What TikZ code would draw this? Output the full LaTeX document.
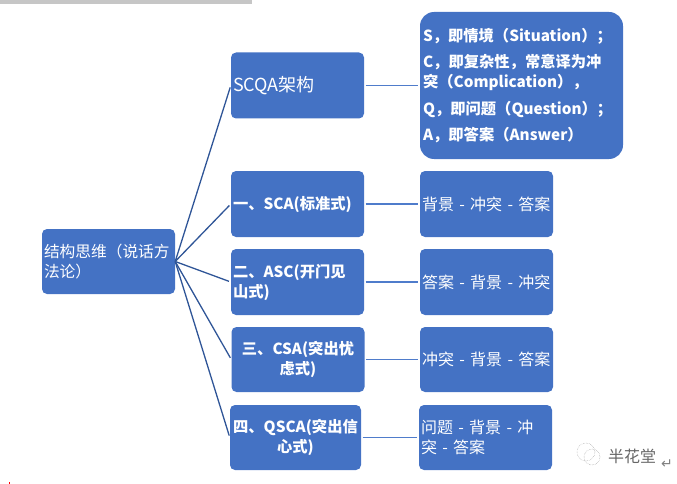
\documentclass[tikz,border=0pt]{standalone}
\usepackage{fontspec}
\setmainfont{Noto Sans CJK SC}
\newfontfamily\symfont{DejaVu Sans}
\definecolor{boxblue}{HTML}{4472C4}
\definecolor{leftline}{HTML}{2F5597}
\definecolor{rightline}{HTML}{4F7CCB}
\tikzset{
  bx/.style={fill=boxblue,rounded corners=5pt,minimum width=133pt,minimum height=66pt,inner xsep=0pt,inner ysep=0pt,text=white,font=\fontsize{15.7}{20}\selectfont},
  plainbox/.style={bx,text width=129pt,align=left},
  rightbox/.style={plainbox,font=\fontsize{16}{19.5}\selectfont},
  boldbox/.style={bx,text width=129pt,align=center,font=\fontsize{15.3}{20}\selectfont\bfseries},
  boldleft/.style={bx,text width=129pt,align=left,font=\fontsize{15.3}{20}\selectfont\bfseries},
  llink/.style={draw=leftline,line width=1.3pt,shorten >=2pt},
  rlink/.style={draw=rightline,line width=1.4pt,shorten <=1.5pt,shorten >=1.5pt},
}
\begin{document}
\begin{tikzpicture}[x=1pt,y=-1pt]
\useasboundingbox (0,0) rectangle (677,484);
\fill[gray!45] (0,0) rectangle (252,4);
% left column
\node[plainbox,minimum height=65pt] (root) at (108.5,261.5) {结构思维（说话方\\法论）};
% middle column
\node[plainbox,font=\fontsize{18}{22}\selectfont] (scqa) at (297.5,85.5) {SCQA架构};
\node[boldleft] (sca) at (297.5,204) {一、SCA(标准式)};
\node[boldleft] (asc) at (297.5,282) {二、ASC(开门见\\山式)};
\node[boldbox,minimum height=65pt] (csa) at (298,359.5) {三、CSA(突出忧\\虑式)};
\node[boldbox,minimum width=131pt,minimum height=65pt] (qsca) at (295.5,437.5) {四、QSCA(突出信\\心式)};
% right column
\node[bx,minimum width=203pt,minimum height=147pt,rounded corners=14pt,text width=197pt,align=left,font=\fontsize{15.3}{20}\selectfont\bfseries] (big) at (521.5,85.5)
  {S，即情境（Situation）；\\[6.5pt]
   C，即复杂性，常意译为冲\\
   突（Complication），\\[6.5pt]
   Q，即问题（Question）；\\[6.5pt]
   A，即答案（Answer）};
\node[rightbox] (r1) at (486.5,204) {背景 - 冲突 - 答案};
\node[rightbox] (r2) at (486.5,282) {答案 - 背景 - 冲突};
\node[rightbox,minimum height=65pt] (r3) at (486.5,359.5) {冲突 - 背景 - 答案};
\node[rightbox,minimum height=65pt] (r4) at (485.5,437.5) {问题 - 背景 - 冲\\突 - 答案};
% connectors
\foreach \t in {scqa,sca,asc,csa,qsca} \draw[llink] (root.east) -- (\t.west);
\draw[rlink] (scqa.east) -- (big.west);
\draw[rlink] (sca.east) -- (r1.west);
\draw[rlink] (asc.east) -- (r2.west);
\draw[rlink] (csa.east) -- (r3.west);
\draw[rlink] (qsca.east) -- (r4.west);
% watermark
\draw[gray!70,line width=.5pt,densely dotted] (586,452) circle (9pt);
\draw[gray!70,line width=.5pt,densely dotted] (592,457) circle (8pt);
\node[text=gray!80!black,font=\fontsize{16}{18}\selectfont,inner sep=0pt] (mark) at (632,456) {半花堂};
\node[text=gray,font=\symfont\fontsize{14}{14}\selectfont,inner sep=0pt] (ret) at (667,464) {↵};
\fill[red] (9,482) rectangle (9.7,484);
\end{tikzpicture}
\end{document}
